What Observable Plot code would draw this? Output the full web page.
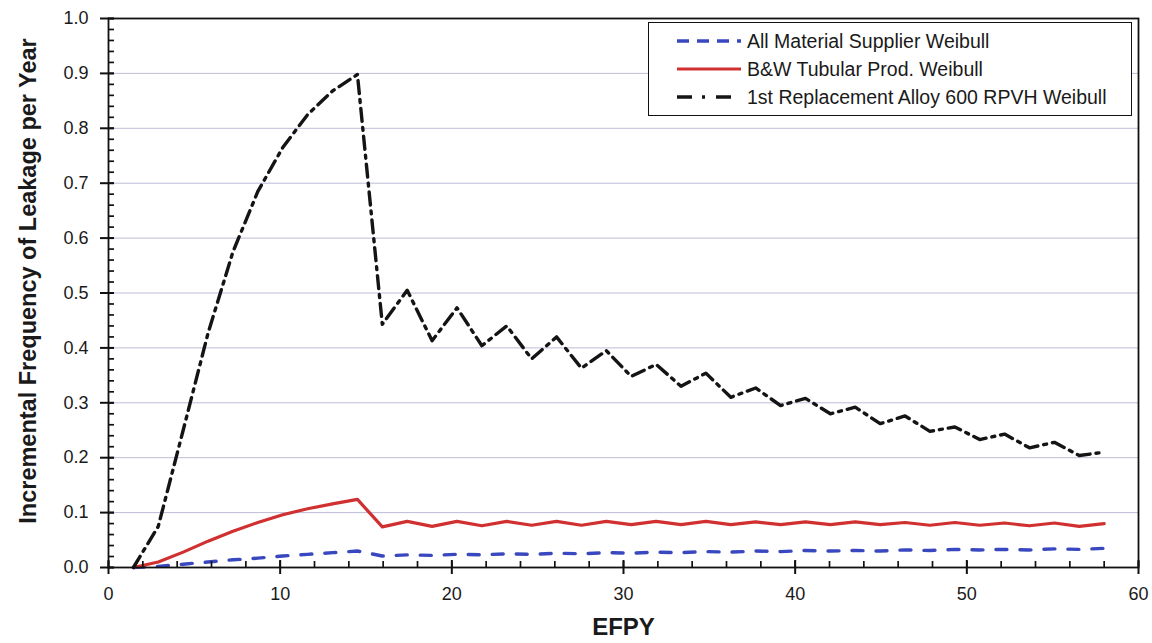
<!DOCTYPE html>
<html>
<head>
<meta charset="utf-8">
<script src="https://cdn.jsdelivr.net/npm/d3@7"></script>
<script src="https://cdn.jsdelivr.net/npm/@observablehq/plot@0.6"></script>
<style>
  html, body { margin: 0; padding: 0; background: #fff; }
  #wrap { position: relative; width: 1152px; height: 643px; font-family: "Liberation Sans", Arial, sans-serif; }
  #legend {
    position: absolute; left: 648px; top: 22px; width: 482px; height: 92px;
    border: 1.6px solid #111; background: #fff; box-sizing: content-box;
  }
  .row { position: absolute; left: 0; height: 28px; display: flex; align-items: center; }
  .row svg { margin-left: 28px; margin-right: 6px; }
  .row span { font-size: 19.5px; color: #1a1a1a; white-space: nowrap; }
</style>
</head>
<body>
<div id="wrap"></div>
<script>
// Effective full-power years at which the leakage frequency was evaluated
const efpy = [1.45, 2.9, 4.35, 5.8, 7.25, 8.7, 10.15, 11.6, 13.05, 14.5,
  15.95, 17.4, 18.85, 20.3, 21.75, 23.2, 24.65, 26.1, 27.55, 29.0,
  30.45, 31.9, 33.35, 34.8, 36.25, 37.7, 39.15, 40.6, 42.05, 43.5,
  44.95, 46.4, 47.85, 49.3, 50.75, 52.2, 53.65, 55.1, 56.55, 58.0];

// Incremental frequency of leakage per year, one list per Weibull model
const allSupplier = [0, 0.002, 0.006, 0.010, 0.014, 0.017, 0.021, 0.024, 0.027, 0.030,
  0.021, 0.023, 0.022, 0.024, 0.023, 0.025, 0.024, 0.026, 0.025, 0.027,
  0.026, 0.028, 0.027, 0.029, 0.028, 0.030, 0.029, 0.031, 0.030, 0.031,
  0.030, 0.032, 0.031, 0.033, 0.032, 0.033, 0.032, 0.034, 0.033, 0.035];

const bwTubular = [0, 0.010, 0.028, 0.048, 0.066, 0.082, 0.096, 0.107, 0.116, 0.124,
  0.074, 0.084, 0.075, 0.084, 0.076, 0.084, 0.077, 0.084, 0.077, 0.084,
  0.078, 0.084, 0.078, 0.084, 0.078, 0.083, 0.078, 0.083, 0.078, 0.083,
  0.078, 0.082, 0.077, 0.082, 0.077, 0.081, 0.076, 0.081, 0.075, 0.080];

const firstReplacement = [0, 0.075, 0.250, 0.427, 0.575, 0.685, 0.765, 0.825, 0.868, 0.898,
  0.443, 0.505, 0.413, 0.473, 0.404, 0.440, 0.380, 0.420, 0.363, 0.395,
  0.348, 0.370, 0.330, 0.354, 0.310, 0.327, 0.295, 0.308, 0.280, 0.292,
  0.262, 0.276, 0.248, 0.256, 0.233, 0.243, 0.218, 0.228, 0.204, 0.210];

const seriesNames = ["All Material Supplier Weibull", "B&W Tubular Prod. Weibull", "1st Replacement Alloy 600 RPVH Weibull"];

// Axis ticks
const xTicks = [0, 10, 20, 30, 40, 50, 60];
const yTicks = [0, 0.1, 0.2, 0.3, 0.4, 0.5, 0.6, 0.7, 0.8, 0.9, 1.0];
const gridLevels = [0.1, 0.2, 0.3, 0.4, 0.5, 0.6, 0.7, 0.8, 0.9];
const xMinor = d3.range(0, 61, 2);
const yMinor = d3.range(0, 1.001, 0.02);

const table = vals => efpy.map((x, i) => ({efpy: x, value: vals[i]}));

const styles = [
  {stroke: "#3a48c0", strokeWidth: 3.4, strokeDasharray: "11,13", legendDash: "12,8"},
  {stroke: "#d03030", strokeWidth: 3.2, strokeDasharray: null, legendDash: null},
  {stroke: "#141414", strokeWidth: 3.4, strokeDasharray: "13,6,3,6", legendDash: "15,10,3,11"}
];

// frame size in pixels, used to shorten the tick rules to short stubs
const W = 1152, H = 643, mL = 108, mR = 14, mT = 18, mB = 76;
const frameW = W - mL - mR, frameH = H - mT - mB;

const chart = Plot.plot({
  width: W,
  height: H,
  marginLeft: mL,
  marginRight: mR,
  marginTop: mT,
  marginBottom: mB,
  style: {fontFamily: "'Liberation Sans', Arial, sans-serif", fontSize: "18px", color: "#1a1a1a", background: "#fff"},
  x: {domain: [0, 60]},
  y: {domain: [0, 1]},
  marks: [
    Plot.gridY(gridLevels, {stroke: "#bcbcd8", strokeOpacity: 1, strokeWidth: 1}),
    Plot.line(table(allSupplier), {x: "efpy", y: "value", stroke: styles[0].stroke, strokeWidth: styles[0].strokeWidth, strokeDasharray: styles[0].strokeDasharray}),
    Plot.line(table(bwTubular), {x: "efpy", y: "value", stroke: styles[1].stroke, strokeWidth: styles[1].strokeWidth}),
    Plot.line(table(firstReplacement), {x: "efpy", y: "value", stroke: styles[2].stroke, strokeWidth: styles[2].strokeWidth, strokeDasharray: styles[2].strokeDasharray}),
    Plot.frame({stroke: "#111", strokeWidth: 1.8}),
    // x axis: major ticks cross the axis line, minor ticks point inward
    Plot.ruleX(xTicks, {x: d => d, insetTop: frameH - 7, insetBottom: -7, stroke: "#111", strokeWidth: 2}),
    Plot.ruleX(xMinor, {x: d => d, insetTop: frameH - 6, stroke: "#111", strokeWidth: 1.7}),
    Plot.axisX(xTicks, {tickSize: 0, tickPadding: 20, fontSize: 18, label: null}),
    // y axis
    Plot.ruleY(yTicks, {y: d => d, insetLeft: -8, insetRight: frameW - 6, stroke: "#111", strokeWidth: 2}),
    Plot.ruleY(yMinor, {y: d => d, insetRight: frameW - 6, stroke: "#111", strokeWidth: 1.7}),
    Plot.axisY(yTicks, {tickSize: 0, tickPadding: 20, fontSize: 18, tickFormat: d3.format(".1f"), label: null}),
    // axis titles
    Plot.text(["EFPY"], {text: d => d, frameAnchor: "bottom", lineAnchor: "middle", textAnchor: "middle", dy: 60, fontSize: 24, fontWeight: "bold", fill: "#1a1a1a"}),
    Plot.text(["Incremental Frequency of Leakage per Year"], {text: d => d, frameAnchor: "left", lineAnchor: "middle", textAnchor: "middle", rotate: -90, dx: -80, dy: -12, fontSize: 23.5, fontWeight: "bold", fill: "#1a1a1a"})
  ]
});

const wrap = document.getElementById("wrap");
wrap.appendChild(chart);

// Legend box in the upper right of the plot area
const legend = document.createElement("div");
legend.id = "legend";
const rowTops = [4, 32, 60];
seriesNames.forEach((name, i) => {
  const row = document.createElement("div");
  row.className = "row";
  row.style.top = rowTops[i] + "px";
  const s = styles[i];
  const svg = d3.create("svg").attr("width", 64).attr("height", 10);
  svg.append("line")
    .attr("x1", 0).attr("x2", 64).attr("y1", 5).attr("y2", 5)
    .attr("stroke", s.stroke).attr("stroke-width", s.strokeWidth)
    .attr("stroke-dasharray", s.legendDash);
  row.appendChild(svg.node());
  const label = document.createElement("span");
  label.textContent = name;
  row.appendChild(label);
  legend.appendChild(row);
});
wrap.appendChild(legend);
</script>
</body>
</html>
